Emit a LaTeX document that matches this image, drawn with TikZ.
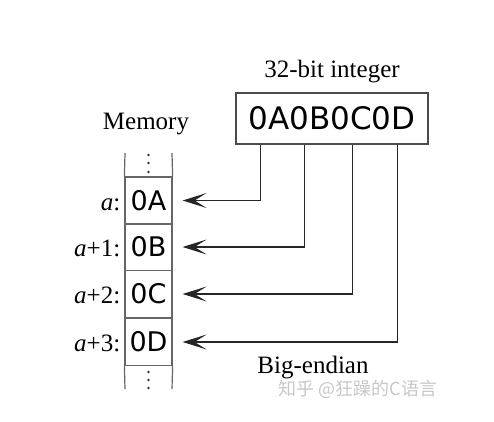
\documentclass[tikz,border=0pt]{standalone}
\usepackage{fontspec}
\setmainfont{Liberation Serif}
\newfontfamily\hexfont{DejaVu Sans}
\newfontfamily\cjk{Noto Sans CJK SC}
\usetikzlibrary{arrows.meta,positioning}

\tikzset{
  cell/.style={draw=black!60, line width=1.2pt, minimum width=47pt, minimum height=47pt,
    inner sep=0pt, font=\hexfont\fontsize{27}{30}\selectfont},
  lab/.style={inner sep=0pt, font=\fontsize{25}{28}\selectfont},
  conn/.style={draw=black!85, line width=1.5pt,
    -{Stealth[length=24pt,width=15pt,inset=12pt]}, shorten >=10pt}
}

\begin{document}
\begin{tikzpicture}[x=1pt,y=-1pt]
        \useasboundingbox (0,0) rectangle (494,421);
        % the integer
        \node[draw=black!70, line width=1.4pt, minimum width=192pt, minimum height=51pt, inner sep=0pt,
              font=\hexfont\fontsize{31}{34}\selectfont] (int) at (332,118.5) {0A0B0C0D};
        \node[lab] (title) at (332,72) {32-bit integer};
        % memory column
        \node[lab] (mem) at (146,124) {Memory};
        \node[cell] (c0) at (148.5,200.5) {0A};
        \node[cell] (c1) at (148.5,247) {0B};
        \node[cell] (c2) at (148.5,294) {0C};
        \node[cell] (c3) at (148.5,342) {0D};
        \draw[black!60, line width=1.2pt] (125,153) -- (c0.north west);
        \draw[black!60, line width=1.2pt] (172,153) -- (c0.north east);
        \draw[black!60, line width=1.2pt] (c3.south west) -- (125,389);
        \draw[black!60, line width=1.2pt] (c3.south east) -- (172,389);
        \foreach \y in {155,163,172,372,380,388}
            \fill[black!80] (148.5,\y) circle (1.4pt);
        % addresses
        \node[lab, anchor=base east] (l0) at ([xshift=-4pt]c0.base west) {\textit{a}:};
        \node[lab, anchor=base east] (l1) at ([xshift=-4pt]c1.base west) {\textit{a}+1:};
        \node[lab, anchor=base east] (l2) at ([xshift=-4pt]c2.base west) {\textit{a}+2:};
        \node[lab, anchor=base east] (l3) at ([xshift=-4pt]c3.base west) {\textit{a}+3:};
        % byte order
        \draw[conn] ([xshift=25pt]int.south west) |- (c0);
        \draw[conn] ([xshift=69pt]int.south west) |- (c1);
        \draw[conn] ([xshift=117pt]int.south west) |- (c2);
        \draw[conn] ([xshift=162pt]int.south west) |- (c3);
        \node[lab] (order) at (313,368) {Big-endian};
        \node[font=\cjk\fontsize{18}{20}\selectfont, text=black!22, inner sep=0pt] (mark) at (358,389) {知乎 @狂躁的C语言};
\end{tikzpicture}
\end{document}
